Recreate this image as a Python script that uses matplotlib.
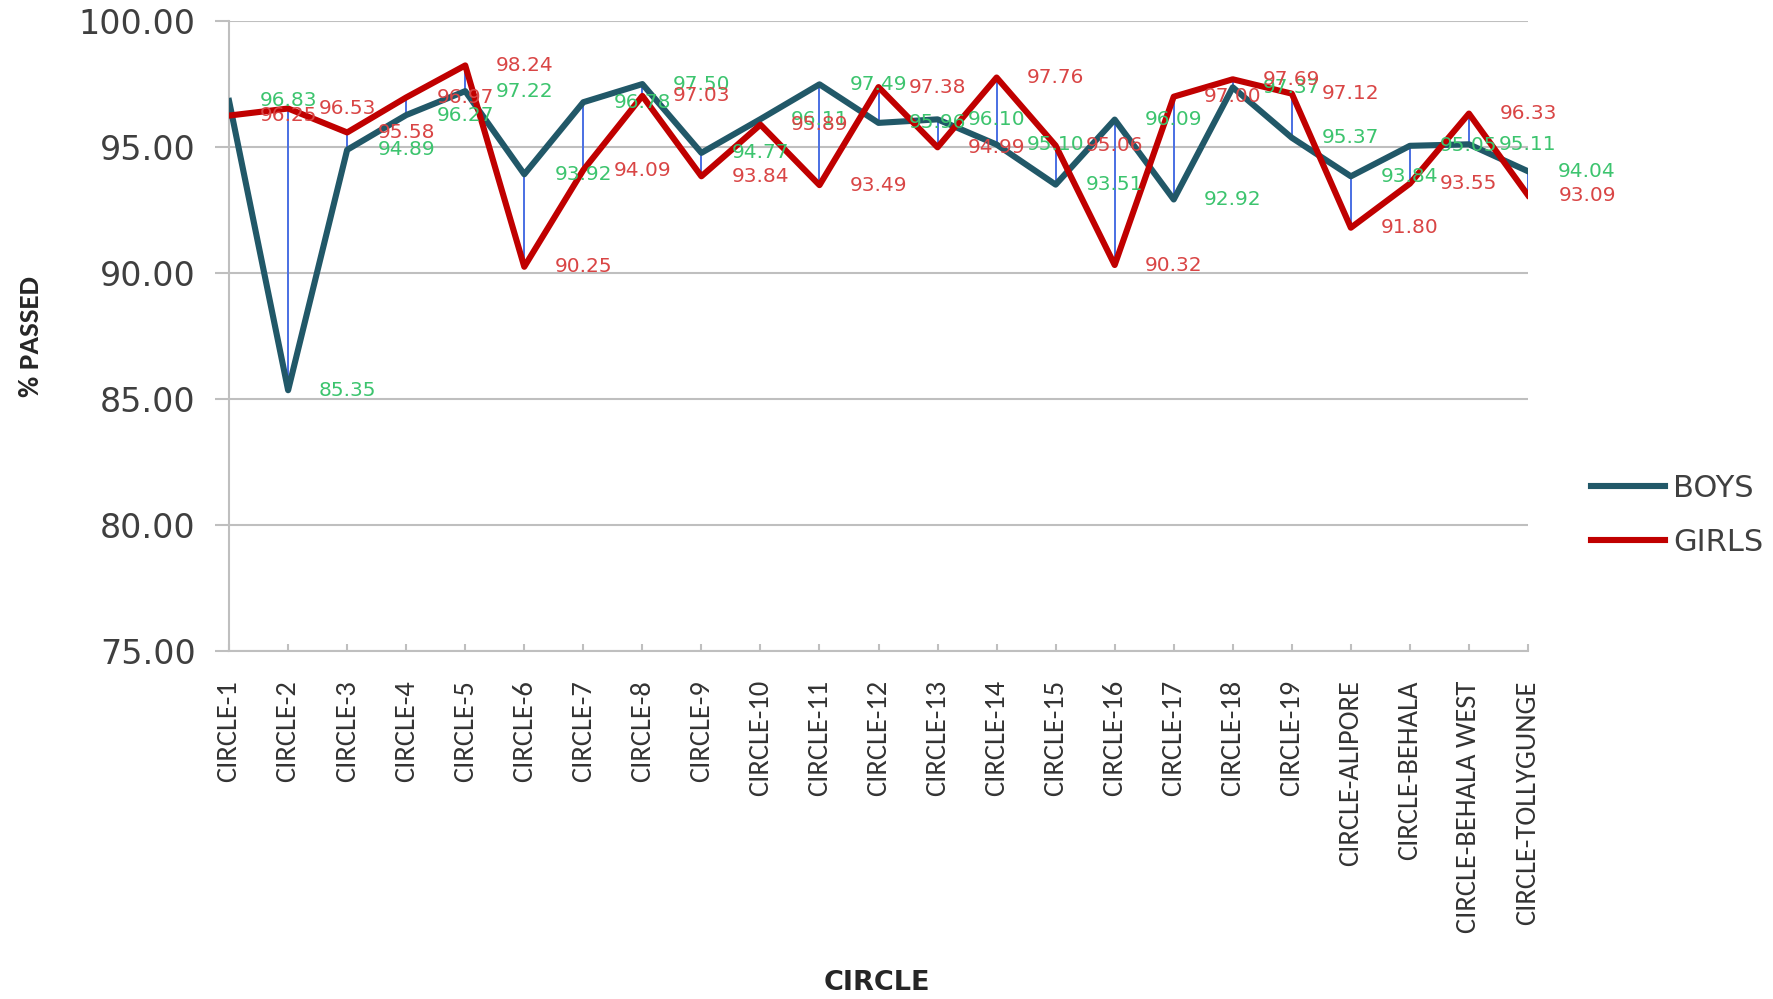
import numpy as np
import matplotlib
matplotlib.use("Agg")
import matplotlib.pyplot as plt
from matplotlib import font_manager

# data
circles = ['CIRCLE-1', 'CIRCLE-2', 'CIRCLE-3', 'CIRCLE-4', 'CIRCLE-5', 'CIRCLE-6',
           'CIRCLE-7', 'CIRCLE-8', 'CIRCLE-9', 'CIRCLE-10', 'CIRCLE-11', 'CIRCLE-12',
           'CIRCLE-13', 'CIRCLE-14', 'CIRCLE-15', 'CIRCLE-16', 'CIRCLE-17', 'CIRCLE-18',
           'CIRCLE-19', 'CIRCLE-ALIPORE', 'CIRCLE-BEHALA', 'CIRCLE-BEHALA WEST',
           'CIRCLE-TOLLYGUNGE']
boys = [96.83, 85.35, 94.89, 96.27, 97.22, 93.92, 96.78, 97.50, 94.77, 96.11, 97.49, 95.96,
        96.10, 95.10, 93.51, 96.09, 92.92, 97.37, 95.37, 93.84, 95.05, 95.11, 94.04]
girls = [96.25, 96.53, 95.58, 96.97, 98.24, 90.25, 94.09, 97.03, 93.84, 95.89, 93.49, 97.38,
         94.99, 97.76, 95.06, 90.32, 97.00, 97.69, 97.12, 91.80, 93.55, 96.33, 93.09]
y_ticks = [75, 80, 85, 90, 95, 100]

# narrow font for the category labels (Calibri look-alike if there is one)
names = {f.name for f in font_manager.fontManager.ttflist}
if 'Carlito' in names:
    narrow, tick_fs, ylab_fs = 'Carlito', 20.5, 21
elif 'Liberation Sans Narrow' in names:
    narrow, tick_fs, ylab_fs = 'Liberation Sans Narrow', 20, 20.5
else:
    narrow, tick_fs, ylab_fs = 'Lato', 20.3, 21

x = np.arange(len(circles))
boys = np.array(boys)
girls = np.array(girls)

fig = plt.figure(figsize=(17.73, 9.99), dpi=100)
ax = fig.add_axes([0.1292, 0.3483, 0.7326, 0.6306])

grid_c = '#BFBFBF'
ax.vlines(x, np.minimum(boys, girls), np.maximum(boys, girls), color='#4A6FE3', lw=1.4, zorder=2)
ax.plot(x, boys, color='#215868', lw=4.4, label='BOYS', zorder=3)
ax.plot(x, girls, color='#C00000', lw=4.4, label='GIRLS', zorder=4)

# data labels (sit one category to the right, as in the original)
for i in range(len(x)):
    ax.text(x[i] + 1, boys[i], f'{boys[i]:.2f}', color='#3CC46E', fontsize=14.5,
            ha='center', va='center', zorder=5, clip_on=False)
    ax.text(x[i] + 1, girls[i], f'{girls[i]:.2f}', color='#D94545', fontsize=14.5,
            ha='center', va='center', zorder=5, clip_on=False)

ax.set_xlim(0, len(circles) - 1)
ax.set_ylim(75, 100)
ax.set_yticks(y_ticks)
ax.set_yticklabels([f'{v:.2f}' for v in y_ticks], fontsize=24, color='#3F3F3F')
ax.set_xticks(x)
ax.set_xticklabels(circles, rotation=90, fontsize=tick_fs, family=narrow, color='#333333')
ax.tick_params(axis='y', direction='out', length=10, width=1.5, color=grid_c, pad=14)
ax.tick_params(axis='x', direction='in', length=5, width=1.5, color=grid_c, pad=21)
ax.grid(axis='y', color=grid_c, lw=1.5)
ax.set_axisbelow(True)
for s in ['top', 'right']:
    ax.spines[s].set_visible(False)
for s in ['left', 'bottom']:
    ax.spines[s].set_color(grid_c)
    ax.spines[s].set_linewidth(1.5)

fig.text(31 / 1773, 1 - 337 / 999, '% PASSED', rotation=90, fontsize=ylab_fs, fontweight='bold',
         family=narrow, color='#262626', ha='center', va='center')
fig.text(877 / 1773, 1 - 983 / 999, 'CIRCLE', fontsize=19.5, fontweight='bold',
         color='#262626', ha='center', va='center')

leg = ax.legend(loc='center left', bbox_to_anchor=(1.027, 0.215), frameon=False,
                fontsize=22, handlelength=2.45, handletextpad=0.25, labelspacing=0.82)
for t in leg.get_texts():
    t.set_color('#404040')

fig.savefig('out.png', dpi=100)
